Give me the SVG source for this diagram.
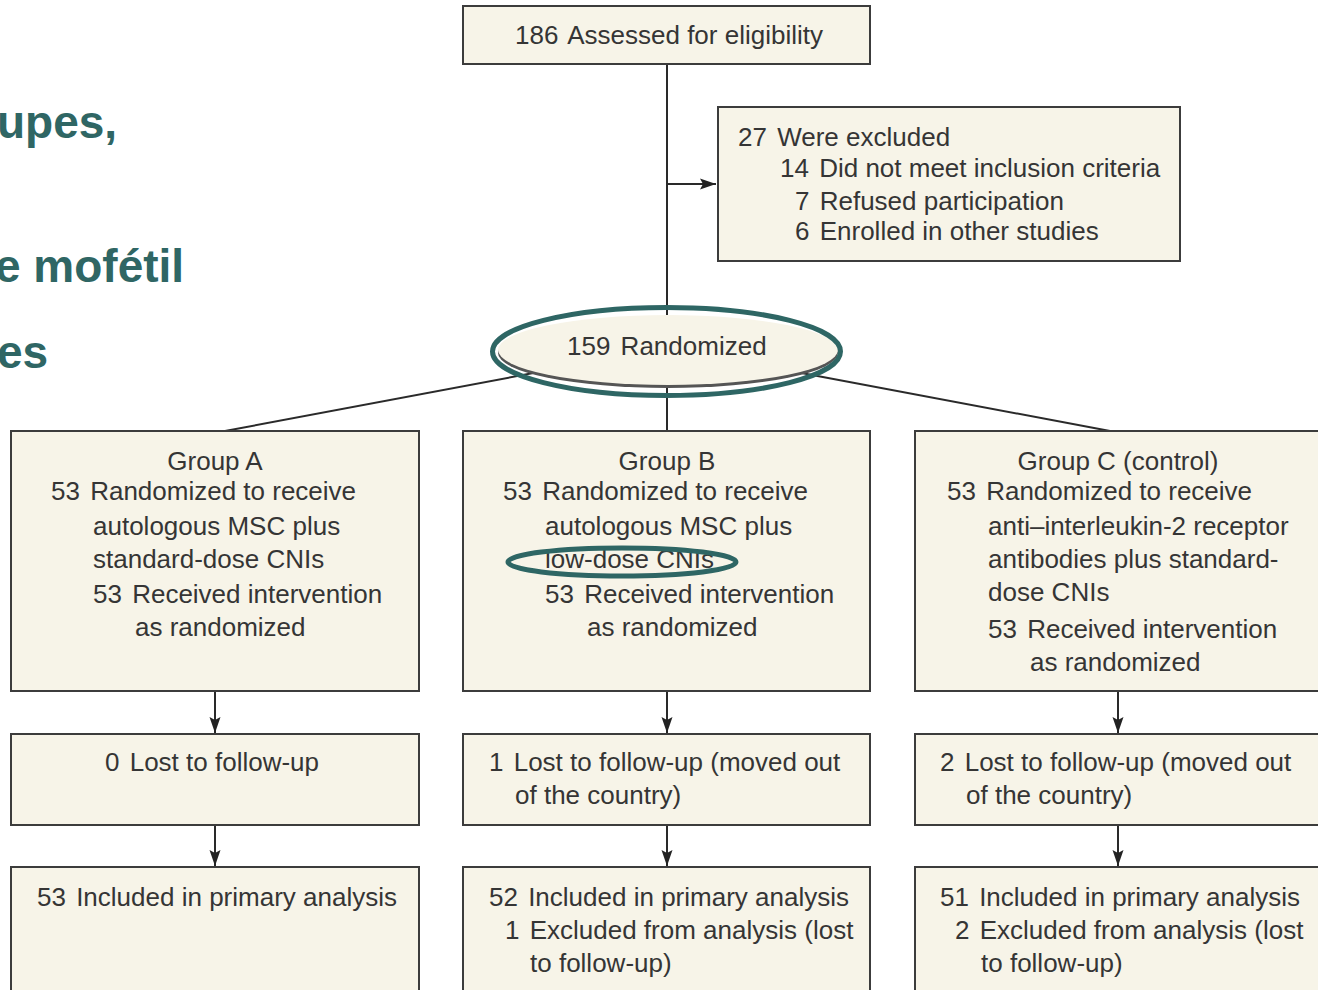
<svg xmlns="http://www.w3.org/2000/svg" width="1318" height="990" viewBox="0 0 1318 990">
<defs>
<marker id="ah" markerWidth="16" markerHeight="12" refX="16" refY="6" orient="auto" markerUnits="userSpaceOnUse">
<path d="M0,0.5 L16,6 L0,11.5 L3,6 z" fill="#222"/>
</marker>
<style>
.box{fill:#f7f4e8;stroke:#3c3c3c;stroke-width:2}
.t{font-family:"Liberation Sans",Arial,sans-serif;font-size:26px;fill:#353535}
.c{text-anchor:middle}
.ln{stroke:#2a2a2a;stroke-width:2;fill:none}
.hl{fill:none;stroke:#2e6664;stroke-width:5}
.big{font-family:"Liberation Sans",Arial,sans-serif;font-size:46px;font-weight:bold;fill:#2f6664}
</style>
</defs>
<rect width="1318" height="990" fill="#ffffff"/>

<g id="side-text">
<text class="big" x="-3" y="138">upes,</text>
<text class="big" x="-5" y="282">e mofétil</text>
<text class="big" x="-3" y="368">es</text>
</g>

<g id="connectors">
<line class="ln" x1="667" y1="64" x2="667" y2="431"/>
<line class="ln" x1="667" y1="184" x2="716" y2="184" marker-end="url(#ah)"/>
<line class="ln" x1="225" y1="431" x2="560" y2="368"/>
<line class="ln" x1="1110" y1="431" x2="775" y2="368"/>
<line class="ln" x1="215" y1="691" x2="215" y2="733" marker-end="url(#ah)"/>
<line class="ln" x1="215" y1="825" x2="215" y2="866" marker-end="url(#ah)"/>
<line class="ln" x1="667" y1="691" x2="667" y2="733" marker-end="url(#ah)"/>
<line class="ln" x1="667" y1="825" x2="667" y2="866" marker-end="url(#ah)"/>
<line class="ln" x1="1118" y1="691" x2="1118" y2="733" marker-end="url(#ah)"/>
<line class="ln" x1="1118" y1="825" x2="1118" y2="866" marker-end="url(#ah)"/>
</g>

<g id="assessed">
<rect class="box" x="463" y="6" width="407" height="58"/>
<text class="t" x="515" y="44">186<tspan dx="3"> Assessed for eligibility</tspan></text>
</g>

<g id="excluded">
<rect class="box" x="718" y="107" width="462" height="154"/>
<text class="t" x="738" y="146">27<tspan dx="3"> Were excluded</tspan></text>
<text class="t" x="780" y="177">14<tspan dx="3"> Did not meet inclusion criteria</tspan></text>
<text class="t" x="795" y="210">7<tspan dx="3"> Refused participation</tspan></text>
<text class="t" x="795" y="240">6<tspan dx="3"> Enrolled in other studies</tspan></text>
</g>

<g id="randomized">
<ellipse cx="668" cy="353" rx="170" ry="35" fill="#555"/>
<ellipse cx="668" cy="350" rx="170" ry="35" fill="#f7f4e8"/>
<text class="t" x="567" y="355">159<tspan dx="3"> Randomized</tspan></text>
<ellipse class="hl" cx="666.5" cy="351.5" rx="174" ry="44"/>
</g>

<g id="groupA">
<rect class="box" x="11" y="431" width="408" height="260"/>
<text class="t c" x="215" y="470">Group A</text>
<text class="t" x="51" y="500">53<tspan dx="3"> Randomized to receive</tspan></text>
<text class="t" x="93" y="535">autologous MSC plus</text>
<text class="t" x="93" y="568">standard-dose CNIs</text>
<text class="t" x="93" y="603">53<tspan dx="3"> Received intervention</tspan></text>
<text class="t" x="135" y="636">as randomized</text>
</g>

<g id="groupB">
<rect class="box" x="463" y="431" width="407" height="260"/>
<text class="t c" x="667" y="470">Group B</text>
<text class="t" x="503" y="500">53<tspan dx="3"> Randomized to receive</tspan></text>
<text class="t" x="545" y="535">autologous MSC plus</text>
<text class="t" x="545" y="568">low-dose CNIs</text>
<text class="t" x="545" y="603">53<tspan dx="3"> Received intervention</tspan></text>
<text class="t" x="587" y="636">as randomized</text>
<ellipse class="hl" cx="622" cy="562" rx="114" ry="14"/>
</g>

<g id="groupC">
<rect class="box" x="915" y="431" width="406" height="260"/>
<text class="t c" x="1118" y="470">Group C (control)</text>
<text class="t" x="947" y="500">53<tspan dx="3"> Randomized to receive</tspan></text>
<text class="t" x="988" y="535">anti–interleukin-2 receptor</text>
<text class="t" x="988" y="568">antibodies plus standard-</text>
<text class="t" x="988" y="601">dose CNIs</text>
<text class="t" x="988" y="638">53<tspan dx="3"> Received intervention</tspan></text>
<text class="t" x="1030" y="671">as randomized</text>
</g>

<g id="lostA">
<rect class="box" x="11" y="734" width="408" height="91"/>
<text class="t" x="105" y="771">0<tspan dx="3"> Lost to follow-up</tspan></text>
</g>

<g id="lostB">
<rect class="box" x="463" y="734" width="407" height="91"/>
<text class="t" x="489" y="771">1<tspan dx="3"> Lost to follow-up (moved out</tspan></text>
<text class="t" x="515" y="804">of the country)</text>
</g>

<g id="lostC">
<rect class="box" x="915" y="734" width="406" height="91"/>
<text class="t" x="940" y="771">2<tspan dx="3"> Lost to follow-up (moved out</tspan></text>
<text class="t" x="966" y="804">of the country)</text>
</g>

<g id="analysisA">
<rect class="box" x="11" y="867" width="408" height="130"/>
<text class="t" x="37" y="906">53<tspan dx="3"> Included in primary analysis</tspan></text>
</g>

<g id="analysisB">
<rect class="box" x="463" y="867" width="407" height="130"/>
<text class="t" x="489" y="906">52<tspan dx="3"> Included in primary analysis</tspan></text>
<text class="t" x="505" y="939">1<tspan dx="3"> Excluded from analysis (lost</tspan></text>
<text class="t" x="530" y="972">to follow-up)</text>
</g>

<g id="analysisC">
<rect class="box" x="915" y="867" width="406" height="130"/>
<text class="t" x="940" y="906">51<tspan dx="3"> Included in primary analysis</tspan></text>
<text class="t" x="955" y="939">2<tspan dx="3"> Excluded from analysis (lost</tspan></text>
<text class="t" x="981" y="972">to follow-up)</text>
</g>
</svg>
